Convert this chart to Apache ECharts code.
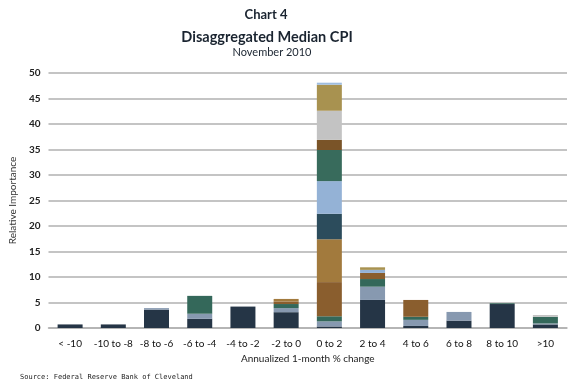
<!DOCTYPE html>
<html>
<head>
<meta charset="utf-8">
<script src="https://cdn.jsdelivr.net/npm/echarts@6/dist/echarts.min.js"></script>
<style>html,body{margin:0;padding:0;background:#fff;}#c{width:580px;height:383px;}</style>
</head>
<body>
<div id="c"></div>
<script>
var categories = ['< -10','-10 to -8','-8 to -6','-6 to -4','-4 to -2','-2 to 0','0 to 2','2 to 4','4 to 6','6 to 8','8 to 10','>10'];
var yTicks = [0, 5, 10, 15, 20, 25, 30, 35, 40, 45, 50];
var layer1 = [0.7, 0.7, 3.6, 1.8, 4.2, 3.1, 0.3, 5.5, 0.4, 1.45, 4.7, 0.7];
var layer2 = [0, 0, 0.3, 1.0, 0, 0.8, 1.0, 2.6, 1.2, 1.7, 0, 0.2];
var layer3 = [0, 0, 0, 3.5, 0, 0.8, 1.0, 1.5, 0.6, 0, 0.15, 1.3];
var layer4 = [0, 0, 0, 0, 0, 0.5, 6.7, 1.2, 3.3, 0, 0, 0];
var layer5 = [0, 0, 0, 0, 0, 0.5, 8.4, 0, 0, 0, 0, 0];
var layer6 = [0, 0, 0, 0, 0, 0, 5.0, 0, 0, 0, 0, 0];
var layer7 = [0, 0, 0, 0, 0, 0, 6.4, 0.6, 0, 0, 0, 0];
var layer8 = [0, 0, 0, 0, 0, 0, 6.1, 0, 0, 0, 0, 0];
var layer9 = [0, 0, 0, 0, 0, 0, 2.0, 0, 0, 0, 0, 0];
var layer10 = [0, 0, 0, 0, 0, 0, 5.7, 0, 0, 0, 0, 0.35];
var layer11 = [0, 0, 0, 0, 0, 0, 5.1, 0.5, 0, 0, 0, 0];
var layer12 = [0, 0, 0, 0, 0, 0, 0.4, 0, 0, 0, 0, 0];

var layers = [layer1, layer2, layer3, layer4, layer5, layer6, layer7, layer8, layer9, layer10, layer11, layer12];
var colors = ['#253546', '#8799b0', '#34685a', '#8a5e2e', '#a27a3d', '#2c4c5c', '#94b2d6', '#386b5c', '#7a5428', '#c3c3c3', '#a89250', '#9fbde0'];

var chart = echarts.init(document.getElementById('c'), null, {renderer: 'canvas'});
var series = layers.map(function (d, i) {
  return {
    type: 'bar',
    stack: 'all',
    barWidth: 25,
    data: d,
    itemStyle: {color: colors[i]},
    animation: false
  };
});
var font = 'Lato';
chart.setOption({
  animation: false,
  title: [
    {text: 'Chart 4', left: 261, top: 3, textAlign: 'center',
     textStyle: {fontFamily: font, fontSize: 13, fontWeight: 'bold', color: '#1a2430'}},
    {text: 'Disaggregated Median CPI', left: 262, top: 25, textAlign: 'center',
     textStyle: {fontFamily: font, fontSize: 14.5, fontWeight: 'bold', color: '#1a2430'}},
    {text: 'November 2010', left: 267, top: 42, textAlign: 'center',
     textStyle: {fontFamily: font, fontSize: 11, fontWeight: 'normal', color: '#1a2430'}},
    {text: 'Source: Federal Reserve Bank of Cleveland', left: 15, top: 369,
     textStyle: {fontFamily: 'DejaVu Sans Mono', fontSize: 7, fontWeight: 'normal', color: '#222'}}
  ],
  grid: {left: 39, right: 13, top: 73, bottom: 55},
  xAxis: {
    type: 'category',
    data: categories,
    name: 'Annualized 1-month % change',
    nameLocation: 'middle',
    nameGap: 26,
    nameTextStyle: {fontFamily: font, fontSize: 10, color: '#222'},
    axisLine: {show: true, lineStyle: {color: '#b0b0b0', width: 1.5}},
    axisTick: {show: false},
    axisLabel: {fontFamily: font, fontSize: 10, color: '#111', margin: 11, interval: 0}
  },
  yAxis: {
    type: 'value',
    min: yTicks[0],
    max: yTicks[yTicks.length - 1],
    interval: yTicks[1] - yTicks[0],
    name: 'Relative Importance',
    nameLocation: 'middle',
    nameRotate: 90,
    nameGap: 26,
    nameTextStyle: {fontFamily: font, fontSize: 10, color: '#333'},
    axisLine: {show: false},
    axisTick: {show: false},
    axisLabel: {fontFamily: font, fontSize: 10, color: '#222', margin: 8, fontWeight: 'bold'},
    splitLine: {lineStyle: {color: '#b0b0b0', width: 1.5}}
  },
  series: series
});
</script>
</body>
</html>
